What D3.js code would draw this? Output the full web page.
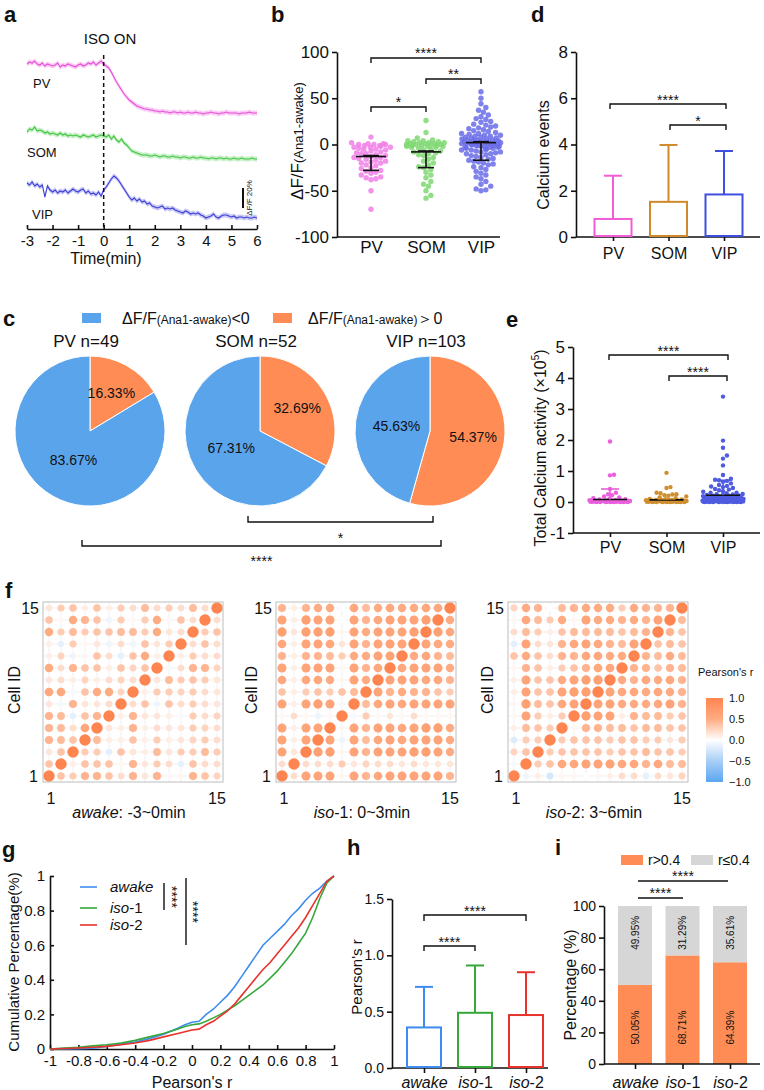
<!DOCTYPE html>
<html>
<head>
<meta charset="utf-8">
<script src="https://cdn.jsdelivr.net/npm/d3@7/dist/d3.min.js"></script>
<style>
html,body{margin:0;padding:0;background:#fff;}
svg{display:block;}
svg text{font-family:"Liberation Sans",Arial,Helvetica,sans-serif;fill:#111;}
</style>
</head>
<body>
<svg id="fig" width="764" height="1090" xmlns="http://www.w3.org/2000/svg"></svg>
<script>
// ================= DATA =================
const cellTypes = ["PV", "SOM", "VIP"];
const conditions = ["awake", "iso-1", "iso-2"];

// (a) mean traces, ΔF/F (%) relative to baseline, sampled every 0.1 min from -3 to 6 min
const traceStart = -3, traceStep = 0.1;
const timeTicks = [-3, -2, -1, 0, 1, 2, 3, 4, 5, 6];
const tracePV = [1,3,2,4,1,0,2,-1,1,0, -1,0,2,-2,0,-1,1,0,-1,-2, 0,1,-1,0,2,1,3,0,2,4, 1,
  -1,-3,-7,-12,-17,-21,-25,-29,-32,-35, -37,-39,-41,-42,-43,-44,-44,-45,-45,-46,
  -46,-47,-46,-47,-47,-48,-47,-47,-48,-47, -48,-48,-47,-48,-48,-47,-48,-48,-49,-48,
  -48,-47,-48,-48,-49,-48,-48,-47,-48,-48, -48,-48,-49,-48,-48,-48,-47,-48,-48,-48];
const traceSOM = [1,4,3,6,2,3,2,0,1,-1, 0,-1,-2,0,-2,-1,-3,-2,-3,-2, -3,-4,-2,-3,-4,-3,-2,-4,-3,-2, -3,
  -4,-2,-6,-3,-7,-9,-6,-10,-12,-15, -18,-19,-20,-21,-22,-22,-22,-23,-23,-22,
  -23,-24,-23,-23,-24,-24,-23,-24,-24,-25, -24,-24,-25,-25,-24,-25,-25,-24,-25,-25,
  -26,-25,-25,-26,-25,-25,-26,-25,-26,-26, -25,-26,-26,-25,-26,-26,-26,-25,-26,-26];
const traceVIP = [4,2,5,1,3,0,2,-10,1,-3, -5,-3,-6,-4,-5,-3,-6,-4,-2,-4, -5,-3,-2,-6,-4,-7,-6,-8,-5,-9, -3,
  0,4,8,11,9,6,2,-2,-6,-10, -13,-11,-14,-12,-15,-14,-17,-16,-19,-20,
  -21,-20,-19,-22,-21,-22,-21,-23,-24,-25, -26,-24,-25,-27,-26,-27,-26,-28,-29,-31,
  -30,-29,-27,-30,-31,-29,-28,-28,-29,-30, -29,-31,-30,-30,-31,-30,-31,-31,-30,-31];

// (b) ΔF/F(Ana1-awake) per cell
const dffPV = [8,2,1,1,0,0,0,-1,-1,-2,-3,-3,-4,-5,-5,-6,-7,-8,-9,-10,-11,-12,-13,-14,-15,-16,-17,-18,-19,-20,-22,-23,-25,-26,-28,-29,-31,-33,-35,-36,-38,-20,-14,-10,-37,-50,-30,-70,-3];
const dffSOM = [26,13,7,5,4,3,3,2,2,1, 1,1,0,0,0,-1,-1,-2,-2,-3, -3,-4,-5,-6,-7,-8,-9,-10,-12,-14, -16,-18,-20,-22,-25,-27,-30,-33,-36,-40, -43,-45,-50,-55,-58,4,2,0,-1,-2, -11,-24];
const dffVIP = [57,50,44,40,37,35,32,30,28,27, 25,24,22,21,20,19,18,17,16,15, 14,13,12,12,11,10,10,9,9,8,
  8,7,7,6,6,5,5,5,4,4, 4,3,3,3,2,2,2,2,1,1, 1,1,0,0,0,0,-1,-1,-1,-2, -2,-2,-3,-3,-3,-4,-4,-5,-5,-6,
  -6,-7,-8,-8,-9,-10,-10,-11,-12,-13, -14,-15,-16,-17,-18,-19,-20,-21,-22,-24, -25,-27,-29,-31,-33,-35,-37,-40,-43,-45, -48,-50,-49];
const dffCenter = [-13, -8, 2];
const dffLow = [-28, -25, -17];
const dffHigh = [-12, -7, 3];
const dffTicks = [-100, -50, 0, 50, 100];

// (d) calcium events
const eventMean = [0.78, 1.52, 1.84];
const eventTop = [2.65, 3.98, 3.72];
const eventTicks = [0, 2, 4, 6, 8];

// (c) pies
const pieTitles = ["PV n=49", "SOM n=52", "VIP n=103"];
const piePos = [16.33, 32.69, 54.37];
const pieNeg = [83.67, 67.31, 45.63];

// (e) total calcium activity (x10^5)
const totPV = [1.95,0.88,0.86,0.42,0.3,0.25,0.22,0.18,0.15,0.12,0.1,0.09,0.08,
  0.07,0.06,0.06,0.05,0.05,0.05,0.04,0.04,0.04,0.04,0.03,0.03,0.03,0.03,0.03,0.02,0.02,0.02,0.02,0.02,0.02,
  0.01,0.01,0.01,0.01,0.01,0.01,0.01,0,0,0,0,0,0,0,0];
const totSOM = [0.94,0.48,0.45,0.3,0.28,0.25,0.24,0.22,0.2,0.18,0.15,0.12,0.1,0.09,0.08,0.07,
  0.07,0.06,0.06,0.05,0.05,0.05,0.04,0.04,0.04,0.04,0.03,0.03,0.03,0.03,0.03,0.02,0.02,0.02,0.02,0.02,
  0.02,0.01,0.01,0.01,0.01,0.01,0.01,0.01,0,0,0,0,0,0,0,0];
const totVIP = [3.4,1.98,1.75,1.5,1.4,1.18,0.87,0.75,0.72,0.7,0.68,0.65,0.6,0.55,0.52,0.5,0.48,0.45,0.42,0.4,
  0.38,0.35,0.33,0.3,0.3,0.28,0.26,0.25,0.24,0.23,0.22,0.21,0.2,0.2,0.19,0.18,0.17,0.16,0.15,0.15,
  0.14,0.13,0.13,0.12,0.12,0.11,0.11,0.1,0.1,0.1,0.09,0.09,0.09,0.08,0.08,0.08,0.07,0.07,0.07,0.06,
  0.06,0.06,0.06,0.05,0.05,0.05,0.05,0.05,0.04,0.04,0.04,0.04,0.04,0.03,0.03,0.03,0.03,0.03,0.03,0.02,
  0.02,0.02,0.02,0.02,0.02,0.02,0.01,0.01,0.01,0.01,0.01,0.01,0.01,0.01,0,0,0,0,0,0,0,0,0];
const totCenter = [0.08, 0.07, 0.22];
const totTop = [0.42, 0.1, 0.7];
const totTicks = [-1, 0, 1, 2, 3, 4, 5];

// (f) Pearson correlation matrices, rows from cell 15 (top) to cell 1 (bottom), columns cell 1..15
const cellIDs = [1,2,3,4,5,6,7,8,9,10,11,12,13,14,15];
const matAwake = [
 [0.15,0.3,0.35,0.1,0.35,0.1,0.3,0.2,0.4,0.2,0.3,0.2,0.4,0.2,1.0],
 [0.35,0.05,0.5,0.45,0.35,-0.1,0.3,0.05,0.3,0.5,0.05,0.35,0.2,1.0,0.2],
 [0.5,0.3,0.4,0.3,0.35,0.35,0.4,0.4,0.3,0.5,0.15,0.2,1.0,0.3,0.35],
 [0.1,-0.15,0.3,0.05,0.15,-0.1,0.2,-0.1,0.35,0.15,0.3,1.0,0.2,0.35,0.2],
 [0.1,0.25,-0.1,0.05,0.35,0.2,-0.15,0.35,0.5,0.1,1.0,0.1,0.3,0.2,0.2],
 [0.5,0.2,0.45,0.35,0.35,0.1,0.35,0.25,0.35,1.0,-0.05,0.2,0.45,0.45,0.25],
 [0.15,0.2,0.1,0.25,0.1,0.2,0.25,0.2,1.0,0.15,0.4,0.3,0.35,0.3,0.15],
 [0.55,0.55,-0.05,0.35,0.5,0.5,0.25,1.0,0.1,0.3,0.3,0.25,0.3,0.2,0.15],
 [0.15,-0.05,0.45,0.15,0.15,0.2,1.0,0.2,0.35,-0.1,0.35,0.2,0.3,0.2,0.15],
 [0.45,0.4,-0.15,0.35,0.45,1.0,0.1,0.45,0.15,0.15,0.1,-0.05,0.3,0.2,0.25],
 [0.45,0.4,0.2,0.55,1.0,0.15,0.1,0.45,0.1,0.2,0.15,0.15,0.3,0.25,0.2],
 [0.45,0.4,0.35,1.0,0.4,0.1,0.1,0.35,0.1,0.3,0.1,0.15,0.25,0.3,0.2],
 [0.15,0.35,1.0,0.3,0.3,-0.15,0.35,0.15,0.1,0.4,0.15,0.3,0.3,0.4,0.3],
 [0.35,1.0,0.1,0.35,0.35,0.35,0.05,0.45,0.15,0.3,0.2,-0.15,0.35,0.2,0.2],
 [1.0,0.35,0.3,0.45,0.45,0.35,0.2,0.45,0.15,0.45,0.05,0.05,0.45,0.35,0.25]];
const matIso1 = [
 [0.45,0.1,0.45,0.5,0.5,0.0,0.55,0.4,0.5,0.55,0.5,0.5,0.55,0.55,1.0],
 [0.6,0.1,0.65,0.6,0.6,0.0,0.6,0.45,0.55,0.6,0.6,0.6,0.65,1.0,0.5],
 [0.65,0.15,0.65,0.65,0.65,0.05,0.6,0.5,0.6,0.6,0.6,0.65,1.0,0.65,0.55],
 [0.55,0.1,0.6,0.6,0.55,0.15,0.6,0.45,0.6,0.6,0.6,1.0,0.6,0.55,0.5],
 [0.45,0.1,0.45,0.45,0.4,0.3,0.5,0.5,0.6,0.6,1.0,0.5,0.55,0.45,0.4],
 [0.6,0.1,0.6,0.6,0.6,0.05,0.6,0.45,0.55,1.0,0.55,0.6,0.6,0.6,0.5],
 [0.55,0.1,0.55,0.55,0.5,0.05,0.6,0.5,1.0,0.6,0.6,0.6,0.55,0.55,0.45],
 [0.35,0.1,0.3,0.35,0.3,0.35,0.4,1.0,0.6,0.45,0.5,0.45,0.45,0.35,0.3],
 [0.6,0.1,0.6,0.65,0.6,-0.05,1.0,0.4,0.55,0.6,0.55,0.6,0.6,0.6,0.6],
 [0.05,0.2,0.05,-0.1,0.05,1.0,-0.05,0.3,0.05,0.15,0.05,0.2,0.05,0.05,0.05],
 [0.6,0.1,0.6,0.6,1.0,0.05,0.6,0.45,0.6,0.6,0.55,0.6,0.65,0.65,0.5],
 [0.6,0.1,0.6,1.0,0.6,-0.1,0.6,0.4,0.55,0.6,0.55,0.6,0.6,0.6,0.5],
 [0.6,0.15,1.0,0.65,0.65,0.05,0.6,0.45,0.6,0.6,0.6,0.65,0.65,0.6,0.5],
 [0.2,1.0,0.2,0.2,0.2,0.3,0.15,0.25,0.2,0.2,0.15,0.2,0.15,0.15,0.15],
 [1.0,0.2,0.6,0.6,0.6,0.05,0.6,0.45,0.55,0.6,0.6,0.6,0.6,0.6,0.45]];
const matIso2 = [
 [0.25,0.5,0.45,0.0,0.4,0.45,0.5,0.5,0.5,0.3,0.5,0.45,0.45,0.45,1.0],
 [0.05,0.55,0.4,0.3,0.5,0.05,0.6,0.5,0.5,0.45,0.5,0.45,0.6,1.0,0.4],
 [0.2,0.4,0.3,0.1,0.35,0.4,0.4,0.4,0.4,0.35,0.4,0.45,1.0,0.45,0.35],
 [-0.15,0.6,0.2,0.15,0.45,0.55,0.6,0.55,0.45,0.4,0.6,1.0,0.35,0.4,0.35],
 [0.35,0.5,0.35,0.2,0.45,0.45,0.55,0.55,0.5,0.5,1.0,0.45,0.4,0.5,0.4],
 [0.05,0.45,0.35,0.1,0.3,0.35,0.45,0.55,0.55,1.0,0.45,0.45,0.35,0.45,0.4],
 [0.1,0.6,0.35,0.35,0.5,0.6,0.65,0.65,1.0,0.5,0.45,0.55,0.5,0.55,0.45],
 [0.1,0.6,0.35,0.35,0.6,0.65,0.65,1.0,0.6,0.55,0.55,0.5,0.55,0.5,0.45],
 [0.05,0.65,0.4,0.35,0.55,0.6,1.0,0.6,0.6,0.5,0.5,0.5,0.55,0.6,0.45],
 [0.05,0.6,0.3,0.1,0.3,1.0,0.65,0.6,0.6,0.1,0.45,0.4,0.4,0.3,0.35],
 [0.1,0.4,0.35,0.3,1.0,0.05,0.45,0.45,0.4,0.4,0.35,0.4,0.4,0.35,0.35],
 [-0.2,0.3,0.3,1.0,0.3,0.35,0.35,0.35,0.3,0.35,0.35,0.3,0.3,0.15,0.3],
 [0.25,0.35,1.0,0.3,0.35,0.35,0.35,0.35,0.3,0.35,0.35,0.4,0.35,0.35,0.3],
 [-0.05,1.0,0.3,0.35,0.55,0.55,0.6,0.6,0.6,0.55,0.55,0.45,0.55,0.4,0.4],
 [1.0,-0.1,0.1,-0.25,0.05,0.05,0.0,0.05,0.1,0.2,0.2,-0.15,0.2,0.15,0.25]];
const colorbarTicks = [1.0, 0.5, 0.0, -0.5, -1.0];

// (g) cumulative distributions of Pearson's r
const cdfX = [-1,-0.9,-0.8,-0.7,-0.6,-0.5,-0.4,-0.3,-0.2,-0.1,-0.05,0,0.05,0.1,0.15,0.2,0.25,0.3,0.35,0.4,0.45,0.5,0.55,0.6,0.65,0.7,0.75,0.8,0.85,0.9,0.95,1];
const cdfAwake = [0,0,0.002,0.005,0.015,0.028,0.04,0.06,0.085,0.12,0.14,0.155,0.16,0.2,0.23,0.27,0.31,0.36,0.42,0.48,0.54,0.6,0.64,0.68,0.72,0.77,0.81,0.86,0.9,0.93,0.97,1];
const cdfIso1 = [0,0.005,0.01,0.018,0.025,0.035,0.05,0.07,0.09,0.115,0.13,0.14,0.145,0.16,0.18,0.2,0.225,0.25,0.28,0.31,0.34,0.37,0.41,0.45,0.5,0.55,0.61,0.67,0.76,0.87,0.96,1];
const cdfIso2 = [0,0.003,0.006,0.01,0.015,0.025,0.035,0.05,0.07,0.09,0.1,0.11,0.115,0.14,0.16,0.19,0.22,0.26,0.31,0.36,0.41,0.46,0.5,0.55,0.6,0.65,0.7,0.76,0.83,0.9,0.97,1];
const cdfXTicks = [-1,-0.8,-0.6,-0.4,-0.2,0,0.2,0.4,0.6,0.8,1];
const cdfYTicks = [0,0.2,0.4,0.6,0.8,1];

// (h) Pearson's r mean + SD
const pearsonMean = [0.36, 0.49, 0.47];
const pearsonTop = [0.72, 0.91, 0.85];
const pearsonTicks = [0, 0.5, 1.0, 1.5];

// (i) percentages
const pctHigh = [50.05, 68.71, 64.39];
const pctLow = [49.95, 31.29, 35.61];
const pctTicks = [0, 20, 40, 60, 80, 100];

// ================= DRAWING =================
const svg = d3.select("#fig");
const INK = "#111";
const cellColA = {PV: "#E94CD8", SOM: "#3DC63D", VIP: "#3C3DD8"};
const cellColB = {PV: "#F07FE6", SOM: "#7FD872", VIP: "#6A6CE8"};
const cellColD = {PV: "#F25DD5", SOM: "#D08A2C", VIP: "#3E4FE0"};
const cellColE = {PV: "#EA5FDD", SOM: "#CF8F2E", VIP: "#4F5BE0"};
const condCol = {"awake": "#3F8CF0", "iso-1": "#35A83A", "iso-2": "#E8322B"};
const ORANGE = "#FF8C55", BLUE = "#5AA4EC", GRAY = "#D6D6D6";

function styleAxis(a, fs) {
  a.attr("font-size", fs);
  a.selectAll(".domain").attr("stroke", INK).attr("stroke-width", 1.6);
  a.selectAll(".tick line").attr("stroke", INK).attr("stroke-width", 1.6);
  a.selectAll(".tick text").attr("fill", INK);
}
function hline(g, x1, x2, y) {
  g.append("line").attr("x1", x1).attr("x2", x2).attr("y1", y).attr("y2", y)
    .attr("stroke", INK).attr("stroke-width", 1.6);
}
function bracket(g, x1, x2, y, drop, label, ly, fs) {
  g.append("path").attr("d", `M${x1},${y + drop}V${y}H${x2}V${y + drop}`)
    .attr("fill", "none").attr("stroke", INK).attr("stroke-width", 1.4);
  if (label) g.append("text").attr("x", (x1 + x2) / 2).attr("y", ly)
    .attr("text-anchor", "middle").attr("font-size", fs || 14).text(label);
}
function vlabel(g, x, y, fs) {
  return g.append("text").attr("transform", `translate(${x},${y}) rotate(-90)`)
    .attr("text-anchor", "middle").attr("font-size", fs);
}
function condLabel(sel, c) {
  const parts = c.split("-");
  sel.text(null);
  sel.append("tspan").attr("font-style", "italic").text(parts[0]);
  if (parts[1]) sel.append("tspan").text("-" + parts[1]);
}
function beeswarm(vals, yS, cx, r, maxHalf) {
  const pts = vals.map(v => ({v: v, y: yS(v)})).sort((a, b) => b.y - a.y);
  const placed = [];
  const step = r * 0.9;
  const nSteps = Math.ceil(maxHalf / step) * 2;
  pts.forEach((p, i) => {
    let chosen = null;
    for (let k = 0; k <= nSteps; k++) {
      const off = (k % 2 === 1 ? 1 : -1) * Math.ceil(k / 2) * step;
      if (Math.abs(off) > maxHalf) continue;
      const ok = placed.every(q => ((q.x - (cx + off)) ** 2 + (q.y - p.y) ** 2) >= (1.8 * r) ** 2);
      if (ok) { chosen = cx + off; break; }
    }
    if (chosen === null) chosen = cx + (((i * 0.618) % 1) * 2 - 1) * maxHalf;
    p.x = chosen; placed.push(p);
  });
  return placed;
}

// ---- panel letters
[["a", 4, 22], ["b", 271, 22], ["d", 531, 22], ["c", 3, 326], ["e", 506, 327],
 ["f", 5, 598], ["g", 2, 857], ["h", 347, 855], ["i", 555, 855]].forEach(d => {
  svg.append("text").attr("x", d[1]).attr("y", d[2]).attr("font-size", 22)
    .attr("font-weight", "bold").text(d[0]);
});

// ================= (a) =================
{
  const g = svg.append("g");
  const x = d3.scaleLinear().domain([-3, 6]).range([27, 257]);
  const y = d3.scaleLinear().domain([-20, 20]).range([20, -20]);
  const times = tracePV.map((_, i) => traceStart + i * traceStep);
  const traces = [
    {name: "PV", v: tracePV, base: 65, lx: 33, ly: 88},
    {name: "SOM", v: traceSOM, base: 133, lx: 27, ly: 157},
    {name: "VIP", v: traceVIP, base: 187, lx: 32, ly: 219}];
  traces.forEach(t => {
    const gg = g.append("g").attr("transform", `translate(0,${t.base})`);
    const pts = t.v.map((v, i) => [times[i], v]);
    gg.append("path").datum(pts)
      .attr("d", d3.area().x(d => x(d[0])).y0(d => y(d[1] - 2.5)).y1(d => y(d[1] + 2.5)))
      .attr("fill", cellColA[t.name]).attr("opacity", 0.28);
    gg.append("path").datum(pts)
      .attr("d", d3.line().x(d => x(d[0])).y(d => y(d[1])))
      .attr("fill", "none").attr("stroke", cellColA[t.name]).attr("stroke-width", 1.1);
    g.append("text").attr("x", t.lx).attr("y", t.ly).attr("font-size", 13).text(t.name);
  });
  g.append("line").attr("x1", x(0)).attr("x2", x(0)).attr("y1", 55).attr("y2", 229)
    .attr("stroke", INK).attr("stroke-width", 1.5).attr("stroke-dasharray", "4,3");
  g.append("text").attr("x", 110).attr("y", 44).attr("text-anchor", "middle").attr("font-size", 15).text("ISO ON");
  const ax = g.append("g").attr("transform", "translate(0,229)")
    .call(d3.axisBottom(x).tickValues(timeTicks).tickSize(-4).tickPadding(6.3).tickSizeOuter(0).tickFormat(d => String(d)));
  styleAxis(ax, 15);
  g.append("text").attr("x", 106).attr("y", 264).attr("text-anchor", "middle").attr("font-size", 16).text("Time(min)");
  // scale bar 20 %
  const sb = g.append("g").attr("transform", "translate(243,208)");
  sb.append("line").attr("x1", 0).attr("x2", 0).attr("y1", y(0)).attr("y2", y(20))
    .attr("stroke", INK).attr("stroke-width", 2);
  vlabel(g, 252, 198, 8).text("ΔF/F 20%");
}

// ================= (b) =================
{
  const g = svg.append("g");
  const y = d3.scaleLinear().domain([-100, 100]).range([237, 52]);
  const x = d3.scalePoint().domain(cellTypes).range([371, 481]);
  const ax = g.append("g").attr("transform", "translate(337,0)")
    .call(d3.axisLeft(y).tickValues(dffTicks).tickSize(5).tickPadding(3).tickSizeOuter(0).tickFormat(d => String(d)));
  styleAxis(ax, 17);
  hline(g, 337, 500, y(-100));
  const bx = g.append("g").attr("transform", `translate(0,${y(-100)})`)
    .call(d3.axisBottom(x).tickSize(0).tickPadding(3.5));
  bx.select(".domain").remove();
  styleAxis(bx, 17);
  const lab = vlabel(g, 303, 141, 17);
  lab.append("tspan").text("ΔF/F");
  lab.append("tspan").attr("font-size", 13).text("(Ana1-awake)");
  const groups = [dffPV, dffSOM, dffVIP];
  groups.forEach((vals, i) => {
    const c = cellTypes[i];
    const pts = beeswarm(vals, y, x(c), 2.7, 20);
    g.append("g").selectAll("circle").data(pts).join("circle")
      .attr("cx", d => d.x).attr("cy", d => d.y).attr("r", 2.7)
      .attr("fill", cellColB[c]).attr("opacity", 0.85);
  });
  cellTypes.forEach((c, i) => {
    const cx = x(c);
    hline(g, cx - 15, cx + 15, y(dffCenter[i]));
    g.append("line").attr("x1", cx).attr("x2", cx).attr("y1", y(dffLow[i])).attr("y2", y(dffHigh[i]))
      .attr("stroke", INK).attr("stroke-width", 1.6);
    hline(g, cx - 8, cx + 8, y(dffLow[i]));
    hline(g, cx - 8, cx + 8, y(dffHigh[i]));
  });
  bracket(g, x("PV"), x("VIP"), 58, 5, "****", 58);
  bracket(g, x("SOM"), x("VIP"), 79, 5, "**", 79);
  bracket(g, x("PV"), x("SOM"), 107, 5, "*", 107);
}

// ================= (d) =================
{
  const g = svg.append("g");
  const y = d3.scaleLinear().domain([0, 8]).range([237, 52]);
  const x = d3.scalePoint().domain(cellTypes).range([613, 724]);
  const ax = g.append("g").attr("transform", "translate(576,0)")
    .call(d3.axisLeft(y).tickValues(eventTicks).tickSize(5).tickPadding(3).tickSizeOuter(0));
  styleAxis(ax, 17);
  const bx = g.append("g").attr("transform", "translate(0,237)")
    .call(d3.axisBottom(x).tickSize(4).tickPadding(6.5));
  bx.select(".domain").remove();
  styleAxis(bx, 16);
  hline(g, 576, 760, 237);
  vlabel(g, 549, 155, 16).text("Calcium events");
  cellTypes.forEach((c, i) => {
    const cx = x(c), col = cellColD[c];
    g.append("line").attr("x1", cx).attr("x2", cx).attr("y1", y(eventMean[i])).attr("y2", y(eventTop[i]))
      .attr("stroke", col).attr("stroke-width", 2);
    g.append("line").attr("x1", cx - 9).attr("x2", cx + 9).attr("y1", y(eventTop[i])).attr("y2", y(eventTop[i]))
      .attr("stroke", col).attr("stroke-width", 2);
    g.append("rect").attr("x", cx - 18.5).attr("width", 37).attr("y", y(eventMean[i]))
      .attr("height", y(0) - y(eventMean[i]) - 1).attr("fill", "none").attr("stroke", col).attr("stroke-width", 2);
  });
  bracket(g, 610, 726, 104, 5, "****", 105);
  bracket(g, 670, 726, 125, 5, "*", 126);
}

// ================= (c) =================
{
  const g = svg.append("g");
  // legend
  const leg = [{c: BLUE, x: 82, tx: 122, tail: "<0"}, {c: ORANGE, x: 273, tx: 308, tail: "＞0"}];
  leg.forEach(l => {
    g.append("rect").attr("x", l.x).attr("y", 313).attr("width", 19).attr("height", 10).attr("fill", l.c);
    const t = g.append("text").attr("x", l.tx).attr("y", 324).attr("font-size", 16);
    t.append("tspan").text("ΔF/F");
    t.append("tspan").attr("font-size", 12).text("(Ana1-awake)");
    t.append("tspan").text(l.tail);
  });
  const centers = [90, 260, 430];
  const R = 75, cy = 431;
  const pie = d3.pie().sort(null).value(d => d.v);
  const arc = d3.arc().innerRadius(0).outerRadius(R);
  cellTypes.forEach((c, i) => {
    const pg = g.append("g").attr("transform", `translate(${centers[i]},${cy})`);
    const arcs = pie([{v: piePos[i], col: ORANGE, lr: 0.58}, {v: pieNeg[i], col: BLUE, lr: 0.45}]);
    pg.selectAll("path").data(arcs).join("path").attr("d", arc)
      .attr("fill", d => d.data.col).attr("stroke", "#fff").attr("stroke-width", 1);
    pg.selectAll("text.pl").data(arcs).join("text").attr("class", "pl")
      .attr("transform", d => {
        const la = d3.arc().innerRadius(0).outerRadius(2 * R * d.data.lr);
        const p = la.centroid(d);
        return `translate(${p[0]},${p[1] + 5})`;
      })
      .attr("text-anchor", "middle").attr("font-size", 14).text(d => d.data.v.toFixed(2) + "%");
    g.append("text").attr("x", centers[i] - 4).attr("y", 347).attr("text-anchor", "middle")
      .attr("font-size", 17).text(pieTitles[i]);
  });
  bracket(g, 248, 433, 522, -6, "*", 543);
  bracket(g, 82, 441, 546, -6, "****", 566);
}

// ================= (e) =================
{
  const g = svg.append("g");
  const y = d3.scaleLinear().domain([-1, 5]).range([533, 347]);
  const x = d3.scalePoint().domain(cellTypes).range([610, 723]);
  const ax = g.append("g").attr("transform", "translate(573,0)")
    .call(d3.axisLeft(y).tickValues(totTicks).tickSize(5).tickPadding(3).tickSizeOuter(0).tickFormat(d => String(d)));
  styleAxis(ax, 17);
  const bx = g.append("g").attr("transform", "translate(0,533)")
    .call(d3.axisBottom(x).tickSize(4).tickPadding(4.6));
  bx.select(".domain").remove();
  styleAxis(bx, 16);
  hline(g, 573, 760, 533);
  const lab = vlabel(g, 546, 448, 16);
  lab.append("tspan").text("Total Calcium activity (×10");
  lab.append("tspan").attr("font-size", 10).attr("dy", -7).text("5");
  lab.append("tspan").attr("dy", 7).text(")");
  [totPV, totSOM, totVIP].forEach((vals, i) => {
    const c = cellTypes[i];
    const pts = beeswarm(vals, y, x(c), 2.2, 21);
    g.append("g").selectAll("circle").data(pts).join("circle")
      .attr("cx", d => d.x).attr("cy", d => d.y).attr("r", 2.2).attr("fill", cellColE[c]);
  });
  cellTypes.forEach((c, i) => {
    const cx = x(c);
    hline(g, cx - 17, cx + 17, y(totCenter[i]));
    g.append("line").attr("x1", cx).attr("x2", cx).attr("y1", y(totCenter[i])).attr("y2", y(totTop[i]))
      .attr("stroke", cellColE[c]).attr("stroke-width", 1.6);
    g.append("line").attr("x1", cx - 9).attr("x2", cx + 9).attr("y1", y(totTop[i])).attr("y2", y(totTop[i]))
      .attr("stroke", cellColE[c]).attr("stroke-width", 1.6);
  });
  bracket(g, 609, 728, 355, 5, "****", 356);
  bracket(g, 669, 727, 376, 5, "****", 377);
}

// ================= (f) =================
{
  const g = svg.append("g");
  const color = d3.scaleLinear().domain([-1, -0.5, 0, 0.5, 1])
    .range(["#5AA6F0", "#A9CEF6", "#FFFFFF", "#FFAB82", "#FF8550"]).clamp(true);
  const size = d3.scaleLinear().domain([0, 1]).range([2.7, 5.7]);
  const S = 180, Y0 = 602;
  const mats = [
    {data: matAwake, x0: 43, lab: ["awake", ": -3~0min"], idx: 20},
    {data: matIso1, x0: 276, lab: ["iso", "-1: 0~3min"], idx: 257},
    {data: matIso2, x0: 508, lab: ["iso", "-2: 3~6min"], idx: 493}];
  mats.forEach(m => {
    const gx = d3.scaleBand().domain(cellIDs).range([m.x0, m.x0 + S]);
    const gy = d3.scaleBand().domain(cellIDs.slice().reverse()).range([Y0, Y0 + S]);
    const h = gx.bandwidth() / 2;
    const mg = g.append("g");
    cellIDs.forEach(id => {
      mg.append("line").attr("x1", gx(id) + h).attr("x2", gx(id) + h).attr("y1", Y0).attr("y2", Y0 + S)
        .attr("stroke", "#EEEEEE").attr("stroke-width", 0.8);
      mg.append("line").attr("y1", gy(id) + h).attr("y2", gy(id) + h).attr("x1", m.x0).attr("x2", m.x0 + S)
        .attr("stroke", "#EEEEEE").attr("stroke-width", 0.8);
    });
    const cells = [];
    m.data.forEach((row, i) => row.forEach((v, j) => cells.push({r: cellIDs[14 - i], c: cellIDs[j], v: v})));
    mg.selectAll("circle").data(cells).join("circle")
      .attr("cx", d => gx(d.c) + h).attr("cy", d => gy(d.r) + h)
      .attr("r", d => size(Math.abs(d.v))).attr("fill", d => color(d.v));
    mg.append("rect").attr("x", m.x0).attr("y", Y0).attr("width", S).attr("height", S)
      .attr("fill", "none").attr("stroke", "#BDBDBD").attr("stroke-width", 1);
    g.append("text").attr("x", m.x0 - 4).attr("y", gy(15) + h + 6).attr("text-anchor", "end").attr("font-size", 16).text("15");
    g.append("text").attr("x", m.x0 - 5).attr("y", gy(1) + h + 6).attr("text-anchor", "end").attr("font-size", 16).text("1");
    g.append("text").attr("x", gx(1) + h + 2).attr("y", 804).attr("text-anchor", "middle").attr("font-size", 16).text("1");
    g.append("text").attr("x", gx(15) + h).attr("y", 804).attr("text-anchor", "middle").attr("font-size", 16).text("15");
    const t = g.append("text").attr("x", m.x0 + S / 2 - 4).attr("y", 818).attr("text-anchor", "middle").attr("font-size", 16);
    t.append("tspan").attr("font-style", "italic").text(m.lab[0]);
    t.append("tspan").text(m.lab[1]);
    vlabel(g, m.idx, 690, 16).text("Cell ID");
  });
  // colour bar
  const defs = svg.append("defs");
  const grad = defs.append("linearGradient").attr("id", "cbar").attr("x1", 0).attr("x2", 0).attr("y1", 0).attr("y2", 1);
  colorbarTicks.forEach((v, i) => grad.append("stop").attr("offset", i / (colorbarTicks.length - 1)).attr("stop-color", color(v)));
  const cb = d3.scaleLinear().domain([1, -1]).range([698, 782]);
  g.append("rect").attr("x", 706).attr("y", cb(1)).attr("width", 17).attr("height", cb(-1) - cb(1)).attr("fill", "url(#cbar)");
  colorbarTicks.forEach(v => {
    g.append("text").attr("x", 729).attr("y", cb(v) + 4).attr("font-size", 11)
      .text(v < 0 ? "−" + Math.abs(v).toFixed(1) : v.toFixed(1));
  });
  g.append("text").attr("x", 698).attr("y", 676).attr("font-size", 11).text("Pearson's r");
}

// ================= (g) =================
{
  const g = svg.append("g");
  const x = d3.scaleLinear().domain([-1, 1]).range([50, 334]);
  const y = d3.scaleLinear().domain([0, 1]).range([1049, 876]);
  const ax = g.append("g").attr("transform", "translate(50,0)")
    .call(d3.axisLeft(y).tickValues(cdfYTicks).tickSize(-4).tickPadding(5).tickSizeOuter(0).tickFormat(d => String(d)));
  styleAxis(ax, 15);
  const bx = g.append("g").attr("transform", "translate(0,1049)")
    .call(d3.axisBottom(x).tickValues(cdfXTicks).tickSize(-4).tickPadding(6.8).tickSizeOuter(0).tickFormat(d => String(+d.toFixed(1))));
  styleAxis(bx, 15);
  vlabel(g, 19, 962, 15).text("Cumulative Percentage(%)");
  g.append("text").attr("x", 192).attr("y", 1088).attr("text-anchor", "middle").attr("font-size", 16).text("Pearson's r");
  const series = [cdfAwake, cdfIso1, cdfIso2];
  const line = d3.line().x((d, i) => x(cdfX[i])).y(d => y(d));
  conditions.forEach((c, i) => {
    g.append("path").datum(series[i]).attr("d", line).attr("fill", "none")
      .attr("stroke", condCol[c]).attr("stroke-width", 1.6);
  });
  const ly = [887, 908, 925];
  conditions.forEach((c, i) => {
    g.append("line").attr("x1", 80).attr("x2", 97).attr("y1", ly[i]).attr("y2", ly[i])
      .attr("stroke", condCol[c]).attr("stroke-width", 1.6);
    condLabel(g.append("text").attr("x", 110).attr("y", ly[i] + 5).attr("font-size", 15), c);
  });
  g.append("line").attr("x1", 164).attr("x2", 164).attr("y1", 883).attr("y2", 910).attr("stroke", INK).attr("stroke-width", 1.4);
  g.append("line").attr("x1", 186).attr("x2", 186).attr("y1", 878).attr("y2", 945).attr("stroke", INK).attr("stroke-width", 1.4);
  g.append("text").attr("transform", "translate(167,897) rotate(90)").attr("text-anchor", "middle").attr("font-size", 14).text("****");
  g.append("text").attr("transform", "translate(188,912) rotate(90)").attr("text-anchor", "middle").attr("font-size", 14).text("****");
}

// ================= (h) =================
{
  const g = svg.append("g");
  const y = d3.scaleLinear().domain([0, 1.5]).range([1068, 899]);
  const x = d3.scalePoint().domain(conditions).range([424, 526]);
  const ax = g.append("g").attr("transform", "translate(392,0)")
    .call(d3.axisLeft(y).tickValues(pearsonTicks).tickSize(5).tickPadding(3).tickSizeOuter(0).tickFormat(d3.format(".1f")));
  styleAxis(ax, 14);
  const bx = g.append("g").attr("transform", "translate(0,1068)")
    .call(d3.axisBottom(x).tickSize(5).tickPadding(3.6));
  bx.select(".domain").remove();
  styleAxis(bx, 16);
  bx.selectAll(".tick text").each(function (d) { condLabel(d3.select(this), d); });
  hline(g, 392, 548, 1068);
  vlabel(g, 362, 977, 15).text("Pearson's r");
  conditions.forEach((c, i) => {
    const cx = x(c), col = condCol[c];
    g.append("line").attr("x1", cx).attr("x2", cx).attr("y1", y(pearsonMean[i])).attr("y2", y(pearsonTop[i]))
      .attr("stroke", col).attr("stroke-width", 2);
    g.append("line").attr("x1", cx - 9).attr("x2", cx + 9).attr("y1", y(pearsonTop[i])).attr("y2", y(pearsonTop[i]))
      .attr("stroke", col).attr("stroke-width", 2);
    g.append("rect").attr("x", cx - 17).attr("width", 34).attr("y", y(pearsonMean[i]))
      .attr("height", y(0) - y(pearsonMean[i]) - 1).attr("fill", "none").attr("stroke", col).attr("stroke-width", 2);
  });
  bracket(g, x("awake"), x("iso-2"), 915, 6, "****", 916);
  bracket(g, x("awake"), x("iso-1"), 946, 5, "****", 947);
}

// ================= (i) =================
{
  const g = svg.append("g");
  const y = d3.scaleLinear().domain([0, 100]).range([1064, 906]);
  const x = d3.scalePoint().domain(conditions).range([635, 730]);
  const ax = g.append("g").attr("transform", "translate(604,0)")
    .call(d3.axisLeft(y).tickValues(pctTicks).tickSize(5).tickPadding(3).tickSizeOuter(0));
  styleAxis(ax, 14);
  conditions.forEach((c, i) => {
    const cx = x(c);
    g.append("rect").attr("x", cx - 17).attr("width", 34).attr("y", y(pctHigh[i]))
      .attr("height", y(0) - y(pctHigh[i])).attr("fill", ORANGE);
    g.append("rect").attr("x", cx - 17).attr("width", 34).attr("y", y(pctHigh[i] + pctLow[i]))
      .attr("height", y(pctHigh[i]) - y(pctHigh[i] + pctLow[i])).attr("fill", GRAY);
    vlabel(g, cx + 3.5, y(83), 10).text(pctLow[i].toFixed(2) + "%");
    vlabel(g, cx + 3.5, y(23), 10).text(pctHigh[i].toFixed(2) + "%");
  });
  const bx = g.append("g").attr("transform", "translate(0,1064)")
    .call(d3.axisBottom(x).tickSize(5).tickPadding(7.6));
  bx.select(".domain").remove();
  styleAxis(bx, 16);
  bx.selectAll(".tick text").each(function (d) { condLabel(d3.select(this), d); });
  hline(g, 604, 760, 1064);
  vlabel(g, 576, 985, 16).text("Percentage (%)");
  // legend
  g.append("rect").attr("x", 621).attr("y", 855).attr("width", 22).attr("height", 10).attr("fill", ORANGE);
  g.append("text").attr("x", 648).attr("y", 865).attr("font-size", 14).text("r>0.4");
  g.append("rect").attr("x", 691).attr("y", 855).attr("width", 22).attr("height", 10).attr("fill", GRAY);
  g.append("text").attr("x", 718).attr("y", 865).attr("font-size", 14).text("r≤0.4");
  bracket(g, 638, 728, 881, 0, "****", 881);
  bracket(g, 638, 683, 898, 0, "****", 898);
}
</script>
</body>
</html>
